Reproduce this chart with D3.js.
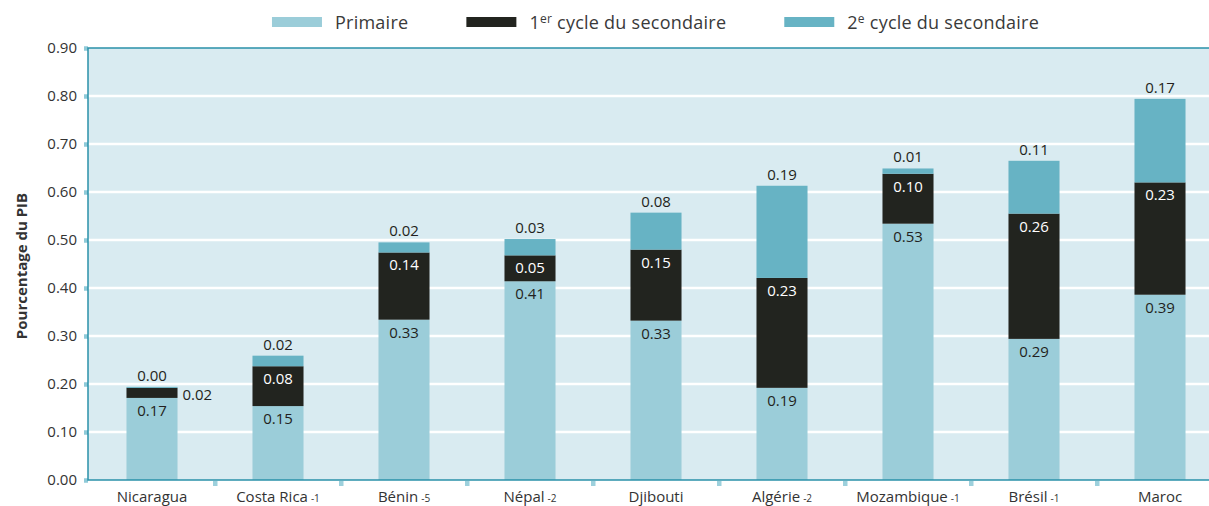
<!DOCTYPE html>
<html>
<head>
<meta charset="utf-8">
<script src="https://cdn.jsdelivr.net/npm/d3@7"></script>
<style>
  body { margin: 0; background: #fff; }
  text { font-family: "Open Sans", sans-serif; fill: #333; }
</style>
</head>
<body>
<div id="myDiv"></div>
<script>
// data (% of GDP)
var countries = ["Nicaragua", "Costa Rica", "Bénin", "Népal", "Djibouti", "Algérie", "Mozambique", "Brésil", "Maroc"];
var yearNotes = ["", "-1", "-5", "-2", "", "-2", "-1", "-1", ""];
var primaire = [0.171, 0.154, 0.334, 0.414, 0.332, 0.192, 0.534, 0.294, 0.386];
var cycle1 = [0.021, 0.083, 0.14, 0.054, 0.148, 0.229, 0.104, 0.261, 0.234];
var cycle2 = [0.002, 0.022, 0.021, 0.034, 0.077, 0.192, 0.011, 0.110, 0.174];
var yTicks = [0, 0.1, 0.2, 0.3, 0.4, 0.5, 0.6, 0.7, 0.8, 0.9];

var keys = ["primaire", "cycle1", "cycle2"];
var colors = { primaire: "#9bcdd9", cycle1: "#22241f", cycle2: "#67b3c4" };

// SVG
var width = 1209;
var height = 506;
var margin = { top: 48, left: 88, bottom: 26 };
var plotRight = 1223;

var svg = d3.select("#myDiv")
    .append("svg")
    .attr("width", width)
    .attr("height", height);

var rows = countries.map(function(c, i) {
    return { country: c, note: yearNotes[i], primaire: primaire[i], cycle1: cycle1[i], cycle2: cycle2[i] };
});

var x = d3.scaleBand()
    .domain(countries)
    .range([margin.left + 1, plotRight])
    .paddingInner(0.595)
    .paddingOuter(0.2975);

var y = d3.scaleLinear()
    .domain([0, 0.9])
    .range([height - margin.bottom, margin.top]);

var fmt = d3.format(".2f");

// plot background
svg.append("rect")
    .attr("x", margin.left)
    .attr("y", y(0.9))
    .attr("width", plotRight - margin.left)
    .attr("height", y(0) - y(0.9))
    .attr("fill", "#d9ebf1");

// gridlines
svg.selectAll(".grid")
    .data(yTicks.filter(function(d) { return d > 0 && d < 0.9; }))
    .enter()
    .append("line")
    .attr("x1", margin.left)
    .attr("x2", plotRight)
    .attr("y1", function(d) { return y(d); })
    .attr("y2", function(d) { return y(d); })
    .attr("stroke", "#fff")
    .attr("stroke-width", 2.5);

// stacked bars
var stacked = d3.stack().keys(keys)(rows);

var layers = svg.selectAll(".layer")
    .data(stacked)
    .enter()
    .append("g")
    .attr("fill", function(d) { return colors[d.key]; });

layers.selectAll("rect")
    .data(function(d) { return d; })
    .enter()
    .append("rect")
    .attr("x", function(d) { return x(d.data.country); })
    .attr("width", x.bandwidth())
    .attr("y", function(d) { return y(d[1]); })
    .attr("height", function(d) { return y(d[0]) - y(d[1]); });

// value labels (thin black segments get their label beside the bar)
function thin(layer, d) {
    return layer.key == "cycle1" && y(d[0]) - y(d[1]) < 20;
}

layers.each(function(layer) {
    d3.select(this).selectAll("text")
        .data(layer)
        .enter()
        .append("text")
        .attr("font-size", 15)
        .style("fill", function(d) {
            return (layer.key == "cycle1" && !thin(layer, d)) ? "#fff" : "#231f20";
        })
        .attr("text-anchor", function(d) { return thin(layer, d) ? "start" : "middle"; })
        .attr("x", function(d) {
            if (thin(layer, d)) return x(d.data.country) + x.bandwidth() + 5;
            return x(d.data.country) + x.bandwidth() / 2;
        })
        .attr("y", function(d) {
            if (layer.key == "cycle2") return y(d[1]) - 6;
            if (thin(layer, d)) return (y(d[0]) + y(d[1])) / 2 + 7;
            return y(d[1]) + 18;
        })
        .text(function(d) { return fmt(d.data[layer.key]); });
});

// y axis
var yAxis = svg.append("g")
    .attr("transform", "translate(" + margin.left + ",0)")
    .call(d3.axisLeft(y).tickValues(yTicks).tickFormat(fmt).tickSize(4).tickPadding(7));

yAxis.select(".domain").remove();
yAxis.selectAll(".tick line")
    .attr("stroke", "#8fcad8")
    .attr("stroke-width", 4.5);
yAxis.selectAll(".tick text")
    .attr("font-size", 15)
    .style("font-family", "'Open Sans', sans-serif")
    .style("fill", "#333");

// x axis with year notes
var xAxis = svg.append("g")
    .attr("transform", "translate(0," + y(0) + ")")
    .call(d3.axisBottom(x).tickSize(0).tickPadding(11));

xAxis.select(".domain").remove();
xAxis.selectAll(".tick text")
    .attr("font-size", 15)
    .style("font-family", "'Open Sans', sans-serif")
    .style("fill", "#333")
    .each(function(d, i) {
        if (yearNotes[i]) {
            d3.select(this).append("tspan")
                .attr("dx", 3)
                .attr("font-size", 10)
                .text(yearNotes[i]);
        }
    });

// little squares between categories
svg.selectAll(".sep")
    .data(d3.range(1, countries.length))
    .enter()
    .append("rect")
    .attr("x", function(k) { return x.range()[0] + k * x.step() - 2; })
    .attr("y", y(0) + 1)
    .attr("width", 4.5)
    .attr("height", 5)
    .attr("fill", "#9dd0dc");

// frame
svg.append("path")
    .attr("d", "M" + plotRight + "," + y(0.9) + "H" + margin.left + "V" + y(0) + "H" + plotRight)
    .attr("fill", "none")
    .attr("stroke", "#2a91a9")
    .attr("stroke-width", 1.5);

// y title
svg.append("text")
    .attr("transform", "translate(26.5," + (y(0.45) + 2) + ") rotate(-90)")
    .attr("text-anchor", "middle")
    .attr("font-size", 15)
    .attr("font-weight", "bold")
    .text("Pourcentage du PIB");

// legend
var legendItems = [
    { key: "primaire", label: "Primaire", sup: "" },
    { key: "cycle1", label: " cycle du secondaire", lead: "1", sup: "er" },
    { key: "cycle2", label: " cycle du secondaire", lead: "2", sup: "e" }
];

var legend = svg.append("g");
var cursor = 0;
legendItems.forEach(function(item, i) {
    var g = legend.append("g").attr("transform", "translate(" + cursor + ",0)");
    g.append("rect")
        .attr("x", 0)
        .attr("y", 17)
        .attr("width", 50)
        .attr("height", 10)
        .attr("fill", colors[item.key]);
    var t = g.append("text")
        .attr("x", 63)
        .attr("y", 29)
        .attr("font-size", 18)
        .attr("letter-spacing", 0.25)
        .style("fill", "#3a3a3a");
    if (item.lead) {
        t.append("tspan").text(item.lead);
        t.append("tspan").attr("font-size", 12).attr("dy", -6).text(item.sup);
        t.append("tspan").attr("dy", 6).text(item.label);
    } else {
        t.text(item.label);
    }
    cursor += 63 + t.node().getComputedTextLength() + 58;
});
var legendWidth = cursor - 58;
legend.attr("transform", "translate(" + ((margin.left + plotRight) / 2 - legendWidth / 2) + ",0)");
</script>
</body>
</html>
